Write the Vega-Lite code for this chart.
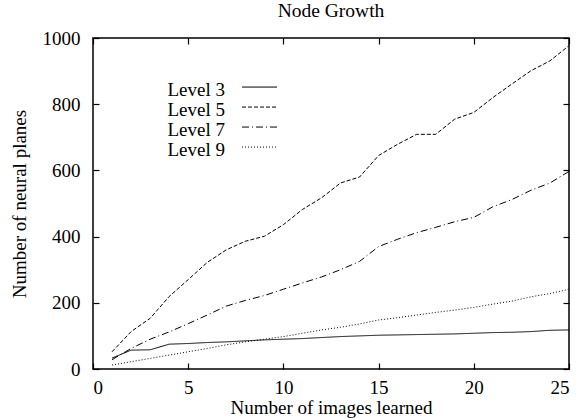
{
  "$schema": "https://vega.github.io/schema/vega-lite/v6.json",
  "width": 476,
  "height": 331,
  "autosize": "none",
  "padding": {"left": 93, "top": 38, "right": 11, "bottom": 49},
  "background": "white",
  "config": {
    "font": "Liberation Serif",
    "view": {"stroke": "black", "strokeWidth": 1.5},
    "axis": {"domain": false, "grid": false, "tickColor": "black", "tickSize": -6, "tickWidth": 1.2, "labelFont": "Liberation Serif", "labelFontSize": 19, "labelColor": "black", "titleFont": "Liberation Serif", "titleFontSize": 19, "titleFontWeight": "normal", "titleColor": "black"}
  },
  "title": {"text": "Node Growth", "font": "Liberation Serif", "fontSize": 19.5, "fontWeight": "normal", "color": "black", "offset": 8},
  "data": {"values": [
    {"x":1,"level":"Level 3","y":33},{"x":2,"level":"Level 3","y":57},{"x":3,"level":"Level 3","y":58},{"x":4,"level":"Level 3","y":75},{"x":5,"level":"Level 3","y":77},{"x":6,"level":"Level 3","y":80},{"x":7,"level":"Level 3","y":82},{"x":8,"level":"Level 3","y":85},{"x":9,"level":"Level 3","y":88},{"x":10,"level":"Level 3","y":90},{"x":11,"level":"Level 3","y":92},{"x":12,"level":"Level 3","y":95},{"x":13,"level":"Level 3","y":98},{"x":14,"level":"Level 3","y":100},{"x":15,"level":"Level 3","y":102},{"x":16,"level":"Level 3","y":103},{"x":17,"level":"Level 3","y":104},{"x":18,"level":"Level 3","y":105},{"x":19,"level":"Level 3","y":106},{"x":20,"level":"Level 3","y":108},{"x":21,"level":"Level 3","y":110},{"x":22,"level":"Level 3","y":111},{"x":23,"level":"Level 3","y":113},{"x":24,"level":"Level 3","y":117},{"x":25,"level":"Level 3","y":118},
    {"x":1,"level":"Level 5","y":52},{"x":2,"level":"Level 5","y":113},{"x":3,"level":"Level 5","y":153},{"x":4,"level":"Level 5","y":219},{"x":5,"level":"Level 5","y":270},{"x":6,"level":"Level 5","y":322},{"x":7,"level":"Level 5","y":360},{"x":8,"level":"Level 5","y":386},{"x":9,"level":"Level 5","y":401},{"x":10,"level":"Level 5","y":436},{"x":11,"level":"Level 5","y":482},{"x":12,"level":"Level 5","y":517},{"x":13,"level":"Level 5","y":562},{"x":14,"level":"Level 5","y":580},{"x":15,"level":"Level 5","y":645},{"x":16,"level":"Level 5","y":679},{"x":17,"level":"Level 5","y":709},{"x":18,"level":"Level 5","y":709},{"x":19,"level":"Level 5","y":755},{"x":20,"level":"Level 5","y":775},{"x":21,"level":"Level 5","y":820},{"x":22,"level":"Level 5","y":861},{"x":23,"level":"Level 5","y":901},{"x":24,"level":"Level 5","y":931},{"x":25,"level":"Level 5","y":977},
    {"x":1,"level":"Level 7","y":28},{"x":2,"level":"Level 7","y":62},{"x":3,"level":"Level 7","y":90},{"x":4,"level":"Level 7","y":112},{"x":5,"level":"Level 7","y":137},{"x":6,"level":"Level 7","y":163},{"x":7,"level":"Level 7","y":190},{"x":8,"level":"Level 7","y":207},{"x":9,"level":"Level 7","y":222},{"x":10,"level":"Level 7","y":241},{"x":11,"level":"Level 7","y":260},{"x":12,"level":"Level 7","y":278},{"x":13,"level":"Level 7","y":300},{"x":14,"level":"Level 7","y":325},{"x":15,"level":"Level 7","y":370},{"x":16,"level":"Level 7","y":392},{"x":17,"level":"Level 7","y":412},{"x":18,"level":"Level 7","y":428},{"x":19,"level":"Level 7","y":445},{"x":20,"level":"Level 7","y":458},{"x":21,"level":"Level 7","y":490},{"x":22,"level":"Level 7","y":512},{"x":23,"level":"Level 7","y":540},{"x":24,"level":"Level 7","y":562},{"x":25,"level":"Level 7","y":597},
    {"x":1,"level":"Level 9","y":12},{"x":2,"level":"Level 9","y":22},{"x":3,"level":"Level 9","y":32},{"x":4,"level":"Level 9","y":42},{"x":5,"level":"Level 9","y":52},{"x":6,"level":"Level 9","y":62},{"x":7,"level":"Level 9","y":73},{"x":8,"level":"Level 9","y":82},{"x":9,"level":"Level 9","y":90},{"x":10,"level":"Level 9","y":98},{"x":11,"level":"Level 9","y":108},{"x":12,"level":"Level 9","y":118},{"x":13,"level":"Level 9","y":126},{"x":14,"level":"Level 9","y":136},{"x":15,"level":"Level 9","y":148},{"x":16,"level":"Level 9","y":155},{"x":17,"level":"Level 9","y":163},{"x":18,"level":"Level 9","y":171},{"x":19,"level":"Level 9","y":178},{"x":20,"level":"Level 9","y":186},{"x":21,"level":"Level 9","y":196},{"x":22,"level":"Level 9","y":205},{"x":23,"level":"Level 9","y":218},{"x":24,"level":"Level 9","y":228},{"x":25,"level":"Level 9","y":241}
  ]},
  "layer": [
    {
      "mark": {"type": "line", "color": "black", "strokeWidth": 1},
      "encoding": {
        "x": {"field": "x", "type": "quantitative", "scale": {"domain": [0, 25], "nice": false}, "axis": {"orient": "bottom", "values": [0,5,10,15,20,25], "format": "d", "labelPadding": 15, "title": "Number of images learned", "titlePadding": 1}},
        "y": {"field": "y", "type": "quantitative", "scale": {"domain": [0, 1000], "nice": false}, "axis": {"orient": "left", "values": [0,200,400,600,800,1000], "format": "d", "labelPadding": 19, "title": "Number of neural planes", "titlePadding": 13}},
        "strokeDash": {"field": "level", "type": "nominal", "scale": {"domain": ["Level 3","Level 5","Level 7","Level 9"], "range": [[1,0],[4,2],[7,3,1,3],[1,2]]},
          "legend": {"orient": "none", "legendX": 157, "legendY": 42, "padding": 0, "title": null, "labelFont": "Liberation Serif", "labelFontSize": 19, "labelColor": "black", "labelAlign": "right", "labelOffset": -44, "symbolType": "M-5,-0.7H5", "symbolSize": 49, "symbolStrokeColor": "black", "symbolFillColor": "transparent", "symbolStrokeWidth": 1, "rowPadding": 0}}
      }
    },
    {
      "mark": {"type": "line", "opacity": 0},
      "encoding": {
        "x": {"field": "x", "type": "quantitative", "axis": {"orient": "top", "values": [0,5,10,15,20,25], "labels": false, "title": null}},
        "y": {"field": "y", "type": "quantitative", "axis": {"orient": "right", "values": [0,200,400,600,800,1000], "labels": false, "title": null}},
        "detail": {"field": "level"}
      }
    }
  ],
  "resolve": {"axis": {"x": "independent", "y": "independent"}}
}
